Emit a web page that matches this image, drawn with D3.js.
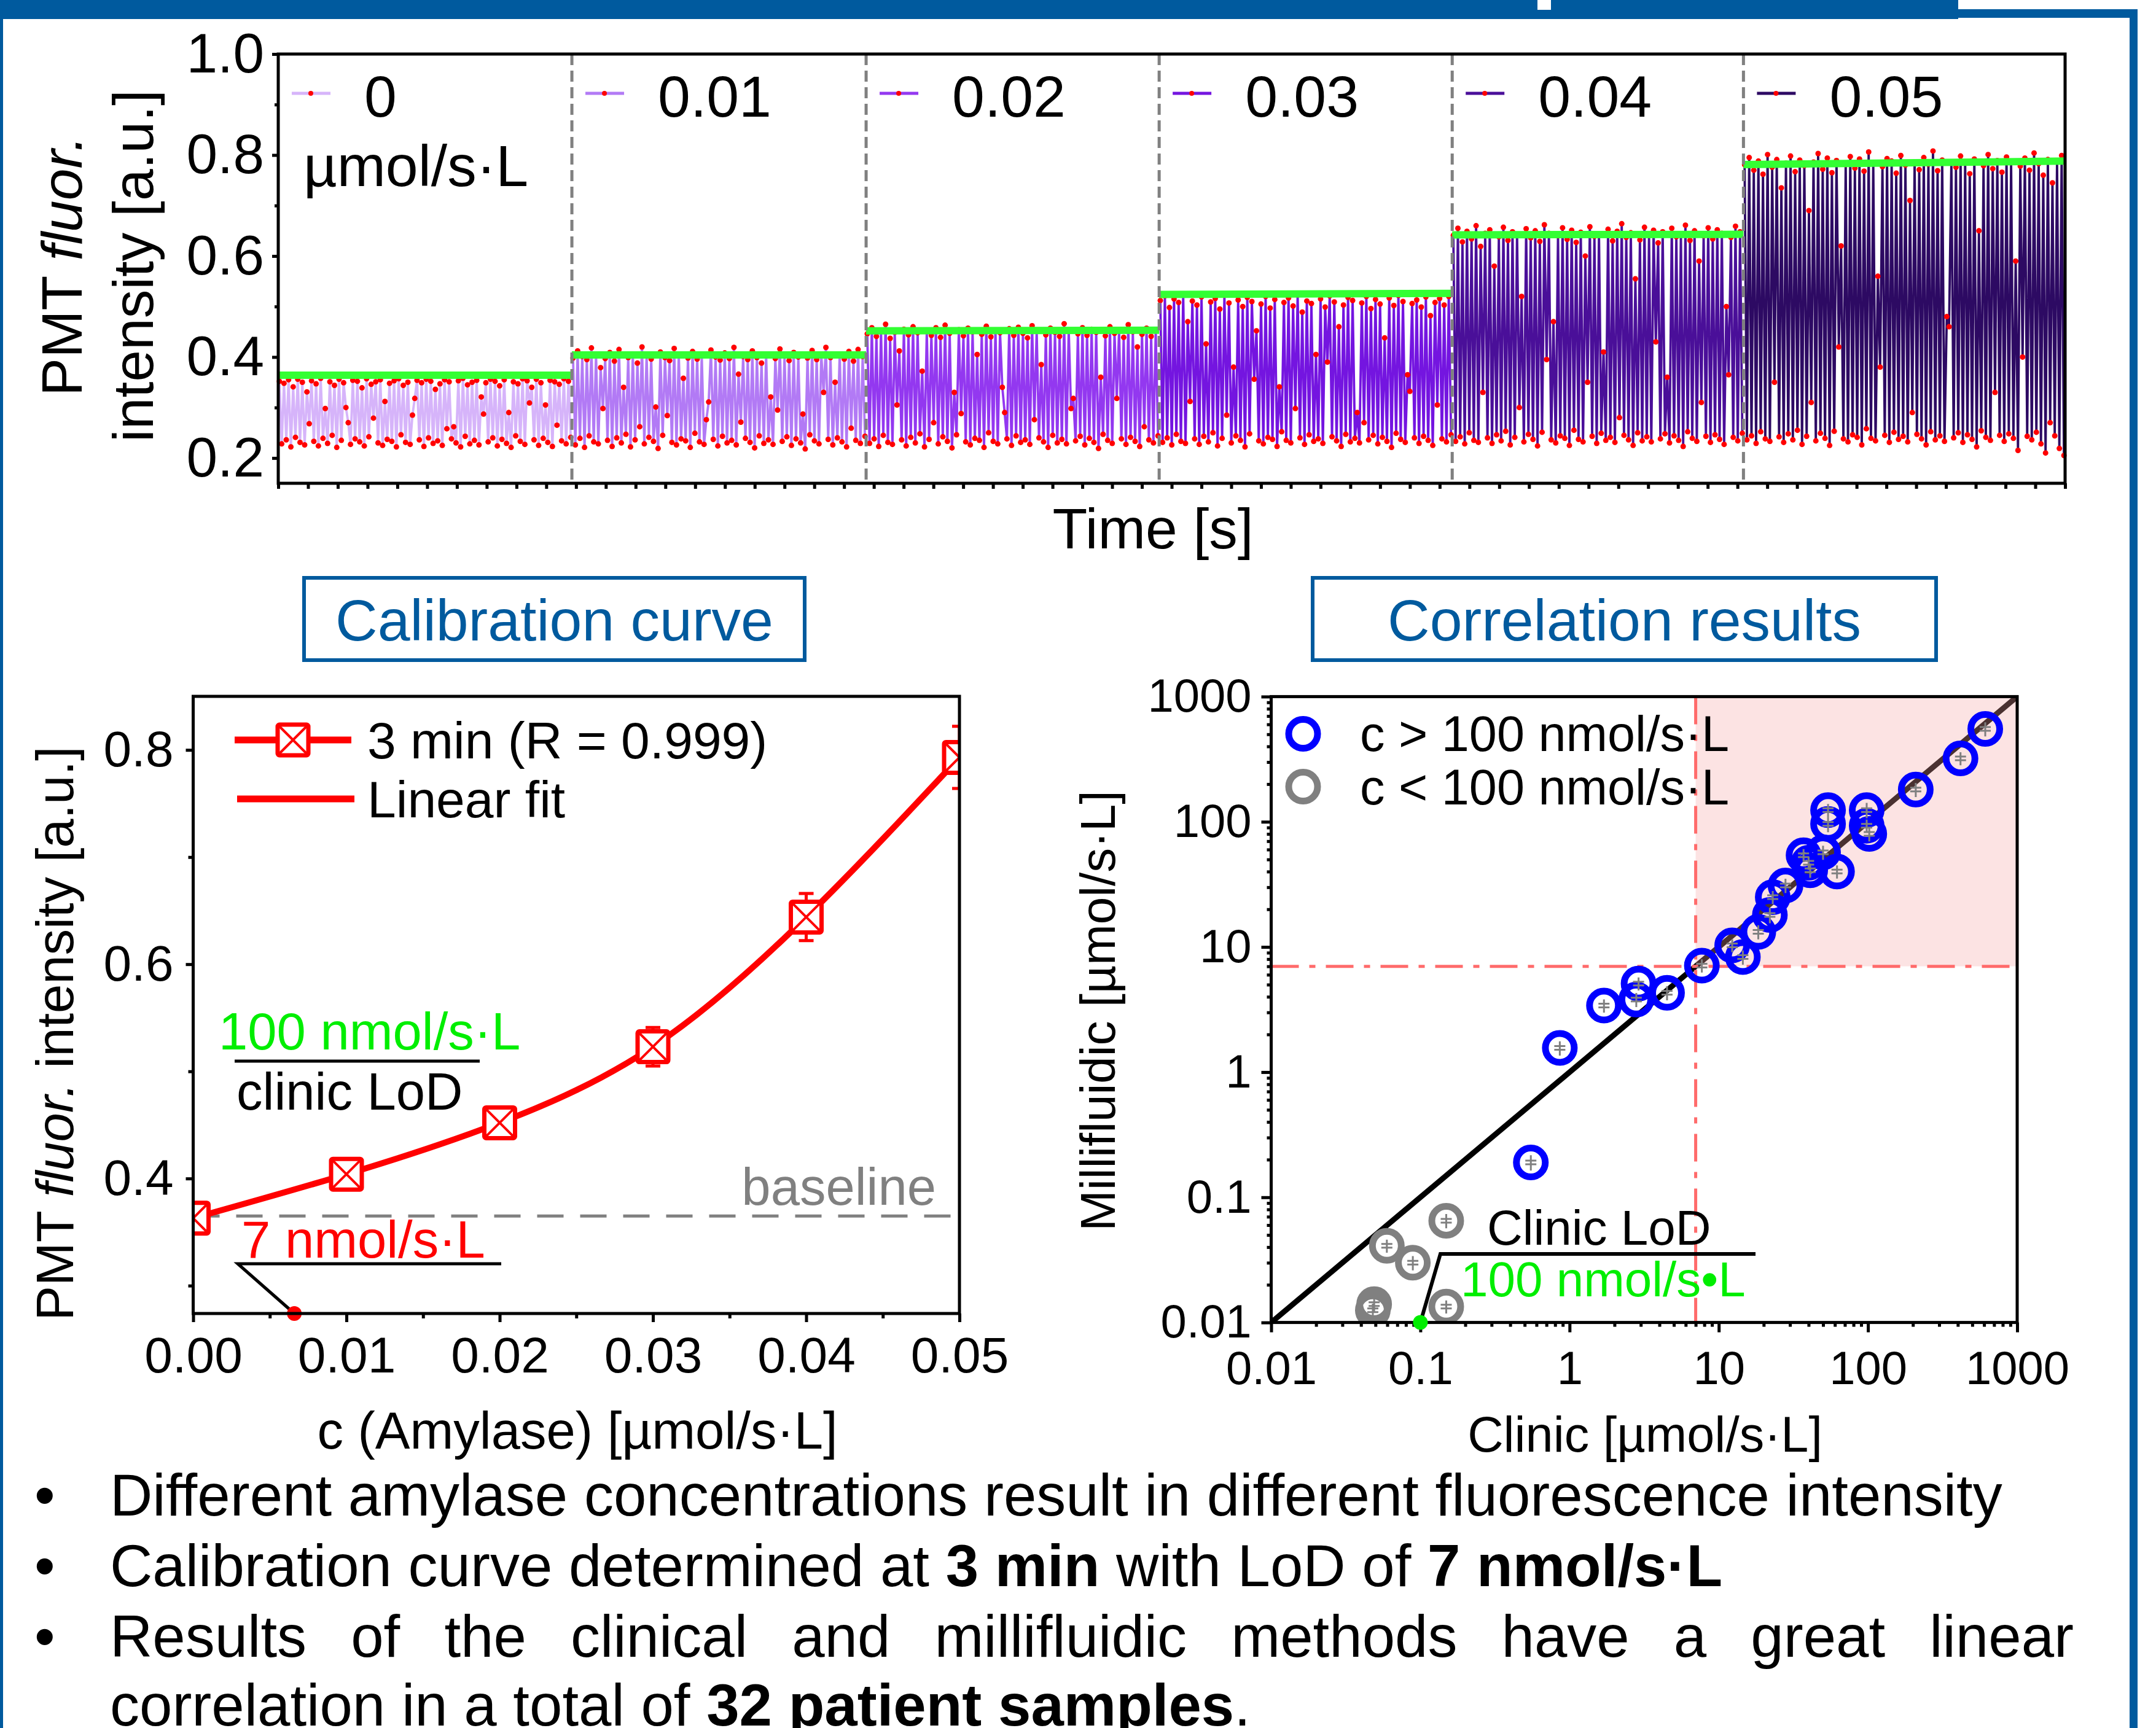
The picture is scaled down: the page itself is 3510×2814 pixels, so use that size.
<!DOCTYPE html>
<html>
<head>
<meta charset="utf-8">
<script src="https://cdn.jsdelivr.net/npm/d3@7"></script>
<style>
  body { margin: 0; background: #fff; }
  svg { display: block; }
</style>
</head>
<body>
<div id="fig"></div>
<script>
// ---------- data ----------
// top panel: PMT trace, one block per amylase concentration
const concLabels = ['0', '0.01', '0.02', '0.03', '0.04', '0.05'];
const segColors = ['#d6b4fa', '#b27af5', '#9338f0', '#7415e0', '#4a0f99', '#2d0a63'];
const segBounds = [0, 98.6, 197.4, 295.8, 394.2, 492, 600]; // time [s]
const greenStart = [0.364, 0.404, 0.452, 0.524, 0.642, 0.781];
const greenEnd = [0.364, 0.404, 0.453, 0.526, 0.643, 0.788];

// sampled maxima / minima of the trace (x1000)
const peaks0 = [352,348,355,341,356,350,331,353,347,358,298,351,344,356,349,270,354,352,339,357,346,351,355,312,348,353,357,344,350,285,354,349,356,352,336,347,355,351,262,353,358,345,350,354,321,349,356,352,343,355,290,351,347,357,353,340,356,349,305,354,351,346,357,352];
const troughs0 = [228,236,222,241,231,226,268,233,224,239,229,245,221,235,300,227,238,232,224,242,279,230,225,237,233,222,246,231,227,318,236,223,240,229,234,225,258,238,230,222,243,228,235,226,287,232,240,224,237,229,221,244,233,227,309,236,225,239,231,223,265,234,228,241];
const peaks1 = [398,412,401,395,418,404,379,397,409,392,415,340,399,406,388,420,402,396,301,410,399,393,417,405,358,398,411,396,403,276,414,400,394,408,397,419,366,401,395,412,399,388,405,321,397,416,402,393,409,400,287,398,413,395,404,419,399,350,406,396,411,392,415,401];
const troughs1 = [226,239,221,244,232,228,298,235,223,240,230,247,222,236,262,228,241,233,219,245,284,231,226,238,234,221,249,232,227,311,237,224,243,230,235,226,271,239,231,220,244,229,236,227,295,233,242,225,238,230,218,246,234,228,330,237,226,240,232,222,259,235,229,243];
const peaks2 = [446,458,441,452,465,437,449,412,455,444,460,448,372,451,443,458,439,463,447,330,454,442,457,450,405,445,461,440,453,448,290,456,443,459,447,438,462,451,385,444,457,449,441,466,452,318,446,458,443,455,449,360,442,460,447,453,439,464,450,420,445,457,441,452];
const troughs2 = [229,238,223,245,231,227,305,236,224,241,230,248,222,237,270,228,242,233,220,246,288,232,226,239,235,221,250,233,228,340,238,225,244,231,236,227,276,240,232,221,245,230,237,228,298,234,243,226,239,231,219,247,235,229,318,238,227,241,233,223,262,236,230,244];
const peaks3 = [512,521,498,515,508,524,470,511,503,519,426,509,516,495,522,507,380,513,500,518,510,452,505,520,497,514,341,508,517,501,523,489,511,506,405,515,499,521,509,460,503,518,512,290,507,520,496,514,505,438,517,502,522,510,365,506,513,499,519,482,508,516,503,520];
const troughs3 = [231,240,226,247,233,229,312,238,227,243,232,250,224,239,285,230,244,235,222,248,356,234,228,241,237,223,252,235,230,298,240,227,246,233,238,229,390,242,234,223,247,232,239,230,270,236,245,228,241,233,221,249,237,231,332,240,229,243,235,225,305,238,232,246];
const peaks4 = [641,655,628,649,634,660,619,645,652,580,638,657,631,648,643,520,654,636,650,629,662,645,470,640,656,633,651,627,647,600,658,639,644,410,653,630,649,664,637,646,555,632,657,641,651,626,648,360,655,638,643,661,631,650,590,640,656,634,652,645,500,637,659,648];
const troughs4 = [233,242,228,250,235,231,330,240,229,246,234,253,226,241,300,232,247,237,224,251,395,236,230,244,239,225,255,237,232,350,243,229,249,235,241,231,280,245,236,225,250,234,242,232,430,238,248,230,244,235,223,252,239,233,310,243,231,246,237,227,365,241,234,249];
const peaks5 = [781,795,770,788,762,801,776,791,735,784,798,767,790,779,690,786,803,772,794,765,789,620,781,797,774,792,768,806,783,560,777,793,788,764,799,780,710,786,771,795,782,808,769,790,480,784,776,798,787,763,792,650,779,801,773,789,766,796,785,590,778,794,770,804,783,760,791,745,787,799];
const troughs5 = [236,244,229,252,238,233,350,242,231,248,236,255,227,243,310,234,249,239,225,253,420,238,232,246,241,226,258,239,234,380,245,231,251,237,243,232,290,247,238,226,252,236,244,233,460,240,250,231,246,237,222,254,241,235,330,245,233,248,239,215,400,243,236,251,228,210,270,244,219,205];
const segPeaks = [peaks0, peaks1, peaks2, peaks3, peaks4, peaks5];
const segTroughs = [troughs0, troughs1, troughs2, troughs3, troughs4, troughs5];

// calibration curve
const calibConc = [0, 0.01, 0.02, 0.03, 0.04, 0.05];
const calibMean = [0.363, 0.404, 0.452, 0.523, 0.644, 0.793];
const calibErr = [0.010, 0.008, 0.008, 0.018, 0.022, 0.029];
const baselineLevel = 0.365;
const lodConc = 0.0066;

// correlation (clinic vs millifluidic)
const clinicBlue = [611, 417, 209, 98, 98, 102, 54, 54, 50, 37, 41, 62, 28, 23, 22, 18.4, 12.3, 14.5, 7.7, 4.5, 2.9, 2.8, 1.7, 0.86, 0.55, 40];
const milliBlue = [552, 321, 181, 124, 93, 80, 124, 96, 57, 54, 41, 40, 31, 25, 18, 13.2, 10.3, 8.3, 7.1, 4.3, 5.1, 3.8, 3.4, 1.56, 0.19, 47];
const errBlue = [0.13, 0.12, 0.13, 0.14, 0.12, 0.13, 0.12, 0.14, 0.13, 0.12, 0.13, 0.12, 0.13, 0.12, 0.14, 0.13, 0.12, 0.13, 0.12, 0.13, 0.12, 0.13, 0.12, 0.13, 0.14, 0.12];
const clinicGrey = [0.149, 0.0596, 0.089, 0.049, 0.149, 0.048];
const milliGrey = [0.065, 0.041, 0.030, 0.014, 0.0134, 0.0125];
const errGrey = [0.13, 0.12, 0.13, 0.13, 0.12, 0.13];
const lodLevel = 7;
const clinicLoD = 0.1;
const logTicks = [0.01, 0.1, 1, 10, 100, 1000];

// ---------- setup ----------
const W = 3510, H = 2814;
const FONT = '"Liberation Sans", Arial, Helvetica, sans-serif';
const BLUE = '#005a9e';

const svg = d3.select('#fig').append('svg')
  .attr('width', W).attr('height', H)
  .attr('font-family', FONT);
svg.append('rect').attr('width', W).attr('height', H).attr('fill', '#fff');

function label(g, x, y, parts, size, opts = {}) {
  const t = g.append('text')
    .attr('transform', `translate(${x},${y})` + (opts.rotate ? ` rotate(${opts.rotate})` : ''))
    .attr('font-size', size)
    .attr('fill', opts.fill || '#000')
    .attr('text-anchor', opts.anchor || 'start');
  if (typeof parts === 'string') t.text(parts);
  else parts.forEach((p) => t.append('tspan')
    .attr('font-style', p.italic ? 'italic' : null)
    .attr('font-weight', p.bold ? 'bold' : null)
    .text(p.t));
  return t;
}

function styleAxis(g, size) {
  g.attr('font-family', FONT).attr('font-size', size);
  g.select('.domain').remove();
  g.selectAll('.tick line').attr('stroke', '#000').attr('stroke-width', 5);
  g.selectAll('.tick text').attr('fill', '#000');
}

// ---------- frame ----------
svg.append('rect').attr('x', 0).attr('y', 0).attr('width', 3188).attr('height', 31).attr('fill', BLUE);
svg.append('rect').attr('x', 2503).attr('y', 0).attr('width', 22).attr('height', 16).attr('fill', '#fff');
svg.append('rect').attr('x', 3188).attr('y', 15).attr('width', 292).attr('height', 14).attr('fill', BLUE);
svg.append('rect').attr('x', 3467).attr('y', 15).attr('width', 13).attr('height', H - 15).attr('fill', BLUE);
svg.append('rect').attr('x', 0).attr('y', 0).attr('width', 5).attr('height', H).attr('fill', BLUE);

// ---------- top panel ----------
const tc = { left: 453, right: 3362, top: 88, bottom: 787 };
const xT = d3.scaleLinear().domain([0, 600]).range([tc.left, tc.right]);
const yT = d3.scaleLinear().domain([0.15, 1.0]).range([tc.bottom, tc.top]);
const gT = svg.append('g');
const lineT = d3.line().x((d) => xT(d.t)).y((d) => yT(d.v));

const segPts = segPeaks.map((pk, i) => {
  const tr = segTroughs[i];
  const t0 = segBounds[i], t1 = segBounds[i + 1];
  const n = Math.min(pk.length, tr.length);
  const step = (t1 - t0) / (2 * n);
  const pts = [];
  for (let k = 0; k < n; k++) {
    pts.push({ t: t0 + (2 * k + 0.5) * step, v: pk[k] / 1000 });
    pts.push({ t: t0 + (2 * k + 1.5) * step, v: tr[k] / 1000 });
  }
  return pts;
});

segPts.forEach((pts, i) => {
  gT.append('path').datum(pts)
    .attr('d', lineT)
    .attr('fill', 'none')
    .attr('stroke', segColors[i])
    .attr('stroke-width', 3.8)
    .attr('stroke-linejoin', 'round');
});
segPts.forEach((pts) => {
  gT.append('g').selectAll('circle').data(pts).join('circle')
    .attr('cx', (d) => xT(d.t)).attr('cy', (d) => yT(d.v))
    .attr('r', 4.5).attr('fill', '#ff0000');
});
// mean level per block
gT.selectAll('line.lvl').data(concLabels).join('line')
  .attr('x1', (d, i) => xT(segBounds[i])).attr('x2', (d, i) => xT(segBounds[i + 1]))
  .attr('y1', (d, i) => yT(greenStart[i])).attr('y2', (d, i) => yT(greenEnd[i]))
  .attr('stroke', '#33ff33').attr('stroke-width', 12);
// block separators
gT.selectAll('line.sep').data(segBounds.slice(1, -1)).join('line')
  .attr('x1', (d) => xT(d)).attr('x2', (d) => xT(d))
  .attr('y1', tc.top).attr('y2', tc.bottom)
  .attr('stroke', '#808080').attr('stroke-width', 5).attr('stroke-dasharray', '18,9');

// legend per block
concLabels.forEach((lab, i) => {
  const x0 = xT(segBounds[i]);
  gT.append('line').attr('x1', x0 + 22).attr('x2', x0 + 85).attr('y1', 152).attr('y2', 152)
    .attr('stroke', segColors[i]).attr('stroke-width', 5);
  gT.append('circle').attr('cx', x0 + 53).attr('cy', 152).attr('r', 4).attr('fill', '#ff0000');
  label(gT, x0 + 140, 190, lab, 95);
});
label(gT, 494, 303, 'µmol/s·L', 95);

// axes
gT.append('rect').attr('x', tc.left).attr('y', tc.top)
  .attr('width', tc.right - tc.left).attr('height', tc.bottom - tc.top)
  .attr('fill', 'none').attr('stroke', '#000').attr('stroke-width', 5);
gT.append('g').attr('transform', `translate(${tc.left},0)`)
  .call(d3.axisLeft(yT).tickValues([0.2, 0.4, 0.6, 0.8, 1.0]).tickFormat(d3.format('.1f'))
    .tickSize(10).tickSizeOuter(0).tickPadding(13))
  .call((g) => styleAxis(g, 91));
gT.append('g').attr('transform', `translate(${tc.left},0)`)
  .call(d3.axisLeft(yT).tickValues([0.3, 0.5, 0.7, 0.9]).tickFormat('').tickSize(6).tickSizeOuter(0))
  .call((g) => styleAxis(g, 91));
gT.append('g').attr('transform', `translate(0,${tc.bottom})`)
  .call(d3.axisBottom(xT).tickValues(d3.range(0, 601, 10)).tickFormat('').tickSize(9).tickSizeOuter(0))
  .call((g) => styleAxis(g, 91));
label(gT, 1877, 893, 'Time [s]', 93, { anchor: 'middle' });
label(gT, 133, 433, [{ t: 'PMT ' }, { t: 'fluor.', italic: true }], 93, { rotate: -90, anchor: 'middle' });
label(gT, 249, 433, 'intensity [a.u.]', 93, { rotate: -90, anchor: 'middle' });

// ---------- panel titles ----------
function titleBox(x, y, w, h, txt) {
  svg.append('rect').attr('x', x).attr('y', y).attr('width', w).attr('height', h)
    .attr('fill', 'none').attr('stroke', BLUE).attr('stroke-width', 6);
  label(svg, x + w / 2, 1043, txt, 95, { anchor: 'middle', fill: BLUE });
}
titleBox(495, 941, 815, 134, 'Calibration curve');
titleBox(2137, 941, 1015, 134, 'Correlation results');

// ---------- calibration panel ----------
const cc = { left: 314.5, right: 1562, top: 1134, bottom: 2139 };
const xC = d3.scaleLinear().domain([0, 0.05]).range([cc.left, cc.right]);
const yC = d3.scaleLinear().domain([0.274, 0.85]).range([cc.bottom, cc.top]);
const gC = svg.append('g');
svg.append('clipPath').attr('id', 'clipC').append('rect')
  .attr('x', cc.left).attr('y', cc.top).attr('width', cc.right - cc.left).attr('height', cc.bottom - cc.top);
const calib = calibConc.map((c, i) => ({ c, m: calibMean[i], e: calibErr[i] }));
const RED = '#ff0000';

const plotC = gC.append('g').attr('clip-path', 'url(#clipC)');
plotC.append('line').attr('x1', cc.left).attr('x2', cc.right)
  .attr('y1', yC(baselineLevel)).attr('y2', yC(baselineLevel))
  .attr('stroke', '#808080').attr('stroke-width', 5).attr('stroke-dasharray', '43,27');
plotC.append('path').datum(calib)
  .attr('d', d3.line().x((d) => xC(d.c)).y((d) => yC(d.m)).curve(d3.curveNatural))
  .attr('fill', 'none').attr('stroke', RED).attr('stroke-width', 10);
plotC.selectAll('path.err').data(calib).join('path')
  .attr('d', (d) => {
    const x = xC(d.c), y1 = yC(d.m - d.e), y2 = yC(d.m + d.e);
    return `M${x - 12},${y1}H${x + 12}M${x},${y1}V${y2}M${x - 12},${y2}H${x + 12}`;
  })
  .attr('fill', 'none').attr('stroke', RED).attr('stroke-width', 5);

function boxX(g, x, y) {
  const s = 25;
  g.append('rect').attr('x', x - s).attr('y', y - s).attr('width', 2 * s).attr('height', 2 * s)
    .attr('fill', '#fff').attr('stroke', RED).attr('stroke-width', 7).attr('rx', 3);
  g.append('path').attr('d', `M${x - s},${y - s}L${x + s},${y + s}M${x + s},${y - s}L${x - s},${y + s}`)
    .attr('stroke', RED).attr('stroke-width', 4);
}
calib.forEach((d) => boxX(plotC, xC(d.c), yC(d.m)));

// legend
gC.append('line').attr('x1', 382).attr('x2', 572).attr('y1', 1205).attr('y2', 1205)
  .attr('stroke', RED).attr('stroke-width', 11);
boxX(gC, 477, 1205);
label(gC, 598, 1235, '3 min (R = 0.999)', 84);
gC.append('line').attr('x1', 386).attr('x2', 577).attr('y1', 1301).attr('y2', 1301)
  .attr('stroke', RED).attr('stroke-width', 11);
label(gC, 598, 1331, 'Linear fit', 84);

// annotations
label(gC, 356, 1709, '100 nmol/s·L', 85, { fill: '#00ee00' });
gC.append('line').attr('x1', 382).attr('x2', 781).attr('y1', 1728).attr('y2', 1728)
  .attr('stroke', '#000').attr('stroke-width', 5);
label(gC, 385, 1807, 'clinic LoD', 85);
label(gC, 1524, 1962, 'baseline', 85, { anchor: 'end', fill: '#808080' });
label(gC, 393, 2048, '7 nmol/s·L', 85, { fill: RED });
gC.append('path')
  .attr('d', `M816,2058H387L${xC(lodConc)},${cc.bottom}`)
  .attr('fill', 'none').attr('stroke', '#000').attr('stroke-width', 5);
gC.append('circle').attr('cx', xC(lodConc)).attr('cy', yC(0.274)).attr('r', 12).attr('fill', RED);

// axes
gC.append('rect').attr('x', cc.left).attr('y', cc.top)
  .attr('width', cc.right - cc.left).attr('height', cc.bottom - cc.top)
  .attr('fill', 'none').attr('stroke', '#000').attr('stroke-width', 5);
gC.append('g').attr('transform', `translate(0,${cc.bottom})`)
  .call(d3.axisBottom(xC).tickValues(calibConc).tickFormat(d3.format('.2f'))
    .tickSize(14).tickSizeOuter(0).tickPadding(24))
  .call((g) => styleAxis(g, 82));
gC.append('g').attr('transform', `translate(0,${cc.bottom})`)
  .call(d3.axisBottom(xC).tickValues([0.005, 0.015, 0.025, 0.035, 0.045]).tickFormat('').tickSize(8).tickSizeOuter(0))
  .call((g) => styleAxis(g, 82));
gC.append('g').attr('transform', `translate(${cc.left},0)`)
  .call(d3.axisLeft(yC).tickValues([0.4, 0.6, 0.8]).tickFormat(d3.format('.1f'))
    .tickSize(12).tickSizeOuter(0).tickPadding(20))
  .call((g) => styleAxis(g, 82));
gC.append('g').attr('transform', `translate(${cc.left},0)`)
  .call(d3.axisLeft(yC).tickValues([0.3, 0.5, 0.7]).tickFormat('').tickSize(8).tickSizeOuter(0))
  .call((g) => styleAxis(g, 82));
label(gC, 940, 2359, 'c (Amylase) [µmol/s·L]', 85, { anchor: 'middle' });
label(gC, 119, 1683, [{ t: 'PMT ' }, { t: 'fluor.', italic: true }, { t: ' intensity [a.u.]' }], 85,
  { rotate: -90, anchor: 'middle' });

// ---------- correlation panel ----------
const rc = { left: 2069.5, right: 3284, top: 1134.4, bottom: 2153.6 };
const xL = d3.scaleLog().domain([0.01, 1000]).range([rc.left, rc.right]);
const yL = d3.scaleLog().domain([0.01, 1000]).range([rc.bottom, rc.top]);
const gR = svg.append('g');
svg.append('clipPath').attr('id', 'clipR').append('rect')
  .attr('x', rc.left).attr('y', rc.top).attr('width', rc.right - rc.left).attr('height', rc.bottom - rc.top);
const plotR = gR.append('g').attr('clip-path', 'url(#clipR)');

plotR.append('line')
  .attr('x1', xL(0.01)).attr('y1', yL(0.01)).attr('x2', xL(1000)).attr('y2', yL(1000))
  .attr('stroke', '#000').attr('stroke-width', 9);
plotR.append('rect')
  .attr('x', xL(lodLevel)).attr('y', rc.top)
  .attr('width', rc.right - xL(lodLevel)).attr('height', yL(lodLevel) - rc.top)
  .attr('fill', '#f4a3a3').attr('opacity', 0.3);
plotR.append('line').attr('x1', xL(lodLevel)).attr('x2', xL(lodLevel)).attr('y1', rc.top).attr('y2', rc.bottom)
  .attr('stroke', '#ff6b6b').attr('stroke-width', 5).attr('stroke-dasharray', '45,17,10,17');
plotR.append('line').attr('x1', rc.left).attr('x2', rc.right).attr('y1', yL(lodLevel)).attr('y2', yL(lodLevel))
  .attr('stroke', '#ff6b6b').attr('stroke-width', 5).attr('stroke-dasharray', '45,17,10,17');

const samples = clinicGrey.map((c, i) => ({ c, m: milliGrey[i], e: errGrey[i], col: '#808080' }))
  .concat(clinicBlue.map((c, i) => ({ c, m: milliBlue[i], e: errBlue[i], col: '#0000ff' })));
plotR.selectAll('circle.pt').data(samples).join('circle')
  .attr('cx', (d) => xL(d.c)).attr('cy', (d) => yL(d.m)).attr('r', 23.5)
  .attr('fill', 'none').attr('stroke', (d) => d.col).attr('stroke-width', 11);
plotR.selectAll('path.eb').data(samples).join('path')
  .attr('d', (d) => {
    const x = xL(d.c), y0 = yL(d.m), y1 = yL(d.m * (1 - d.e)), y2 = yL(d.m * (1 + d.e));
    return `M${x},${y1}V${y2}M${x - 9},${y0 - 3}H${x + 9}M${x - 9},${y0 + 3}H${x + 9}`;
  })
  .attr('fill', 'none').attr('stroke', '#808080').attr('stroke-width', 3);

// legend
gR.append('circle').attr('cx', 2121.5).attr('cy', 1195).attr('r', 23.5)
  .attr('fill', 'none').attr('stroke', '#0000ff').attr('stroke-width', 11);
label(gR, 2214, 1223, 'c > 100 nmol/s·L', 81);
gR.append('circle').attr('cx', 2121.5).attr('cy', 1281).attr('r', 23.5)
  .attr('fill', 'none').attr('stroke', '#808080').attr('stroke-width', 11);
label(gR, 2214, 1310, 'c < 100 nmol/s·L', 81);

// clinic LoD annotation
label(gR, 2421, 2027, 'Clinic LoD', 80);
label(gR, 2378, 2111, '100 nmol/s•L', 80, { fill: '#00ee00' });
gR.append('path')
  .attr('d', `M${xL(clinicLoD)},${yL(0.01)}L2345,2042H2858`)
  .attr('fill', 'none').attr('stroke', '#000').attr('stroke-width', 6);

// axes
gR.append('rect').attr('x', rc.left).attr('y', rc.top)
  .attr('width', rc.right - rc.left).attr('height', rc.bottom - rc.top)
  .attr('fill', 'none').attr('stroke', '#000').attr('stroke-width', 5);
const minorLog = [];
logTicks.slice(0, -1).forEach((t) => { for (let k = 2; k <= 9; k++) minorLog.push(t * k); });
gR.append('g').attr('transform', `translate(0,${rc.bottom})`)
  .call(d3.axisBottom(xL).tickValues(logTicks).tickFormat((d) => String(d))
    .tickSize(16).tickSizeOuter(0).tickPadding(30))
  .call((g) => styleAxis(g, 76));
gR.append('g').attr('transform', `translate(0,${rc.bottom})`)
  .call(d3.axisBottom(xL).tickValues(minorLog).tickFormat('').tickSize(7).tickSizeOuter(0))
  .call((g) => styleAxis(g, 76));
gR.append('g').attr('transform', `translate(${rc.left},0)`)
  .call(d3.axisLeft(yL).tickValues(logTicks).tickFormat((d) => String(d))
    .tickSize(16).tickSizeOuter(0).tickPadding(16))
  .call((g) => styleAxis(g, 76));
gR.append('g').attr('transform', `translate(${rc.left},0)`)
  .call(d3.axisLeft(yL).tickValues(minorLog).tickFormat('').tickSize(7).tickSizeOuter(0))
  .call((g) => styleAxis(g, 76));
gR.append('circle').attr('cx', xL(clinicLoD)).attr('cy', yL(0.01)).attr('r', 12).attr('fill', '#00ee00');
label(gR, 2678, 2364, 'Clinic [µmol/s·L]', 81, { anchor: 'middle' });
label(gR, 1815, 1646, 'Millifluidic [µmol/s·L]', 80, { rotate: -90, anchor: 'middle' });

// ---------- bullet text ----------
const gB = svg.append('g');
const FS = 96;
const bulletY = [2468, 2583, 2698];
bulletY.forEach((y) => label(gB, 56, y, '•', FS));
label(gB, 179, 2468, 'Different amylase concentrations result in different fluorescence intensity', FS);
label(gB, 179, 2583, [{ t: 'Calibration curve determined at ' }, { t: '3 min', bold: true },
  { t: ' with LoD of ' }, { t: '7 nmol/s·L', bold: true }], FS);
// justified line
const words = 'Results of the clinical and millifluidic methods have a great linear'.split(' ');
const wEls = words.map((w) => label(gB, 0, 2698, w, FS));
const widths = wEls.map((t) => t.node().getComputedTextLength());
const gap = (3376 - 179 - d3.sum(widths)) / (words.length - 1);
let cx = 179;
wEls.forEach((t, i) => { t.attr('transform', `translate(${cx},2698)`); cx += widths[i] + gap; });
label(gB, 179, 2810, [{ t: 'correlation in a total of ' }, { t: '32 patient samples', bold: true }, { t: '.' }], FS);
</script>
</body>
</html>
